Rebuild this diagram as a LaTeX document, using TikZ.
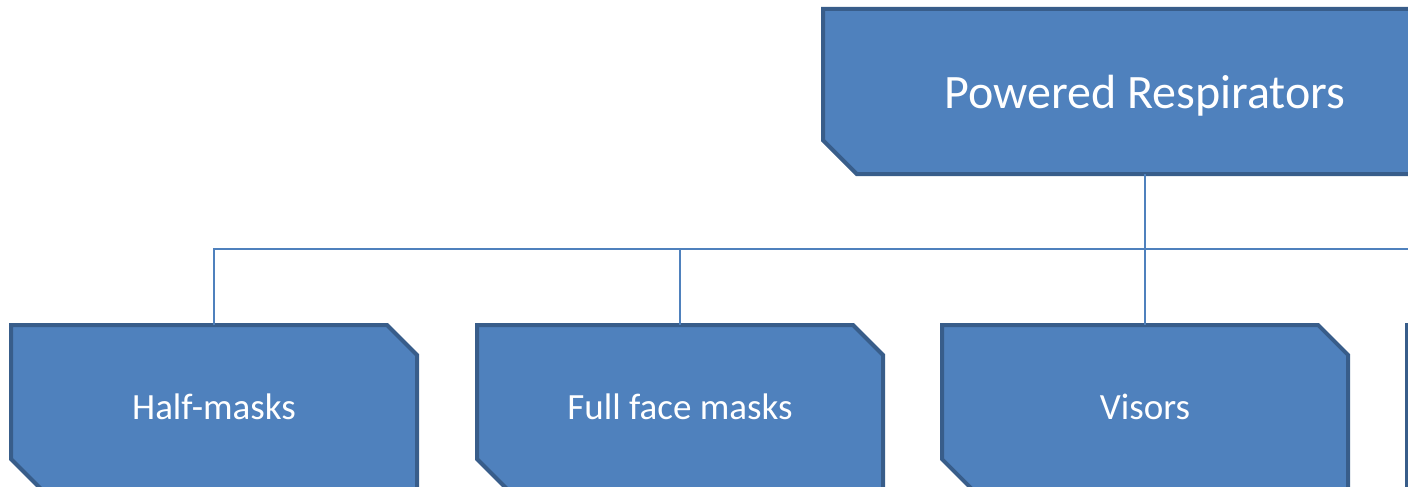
\documentclass[tikz,border=0pt]{standalone}
\usepackage{fontspec}
\setmainfont{Carlito}
\usetikzlibrary{positioning, shapes.misc}
\definecolor{boxfill}{HTML}{4F81BD}
\definecolor{boxline}{HTML}{385D8A}
\tikzset{
    snipbox/.style={chamfered rectangle, chamfered rectangle corners={north east, south west},
        chamfered rectangle sep=17pt, fill=boxfill, draw=boxline, line width=4pt,
        text=white, outer sep=0pt, inner sep=0pt, align=center}, % snipped corner boxes
    topbox/.style={snipbox, minimum width=644pt, minimum height=165pt, text depth=0pt,
        font=\fontsize{48}{57}\selectfont},
    itembox/.style={snipbox, minimum width=406pt, minimum height=164pt, font=\fontsize{37}{44}\selectfont},
    link/.style={draw=boxfill, line width=2pt} % org chart connectors
}

\begin{document}
\begin{tikzpicture}[x=1pt, y=-1pt]
        \useasboundingbox (0,0) rectangle (1408,487);
        \clip (0,0) rectangle (1408,487);

        \node[itembox] (half) at (214,407) {Half-masks};
        \node[itembox] (full) [right = 60pt of half] {Full face masks};
        \node[itembox] (visors) [right = 59pt of full] {Visors};
        \node[itembox] (other) [right = 59pt of visors] {};

        \node[topbox] (top) [above = 151pt of visors] {Powered Respirators};

        \coordinate (bus) at (top.south |- 0,249);

        \draw[link] (top.south) -- (bus);
        \foreach \n in {half, full, visors, other}
            \draw[link] (bus) -| (\n.north);
    \end{tikzpicture}
\end{document}
